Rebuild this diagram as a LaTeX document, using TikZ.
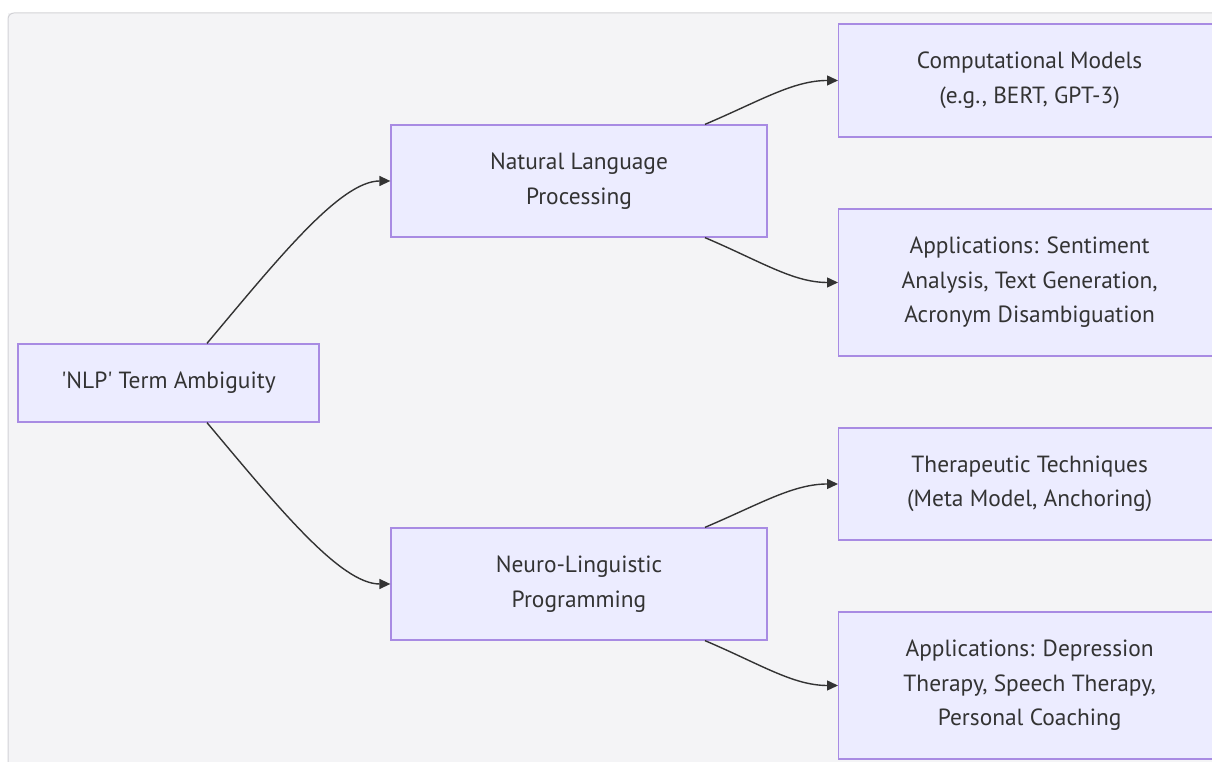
\documentclass[tikz,border=0pt]{standalone}
\usepackage{fontspec}
\setmainfont{PT Sans}
\usepackage{tikz}
\usetikzlibrary{positioning,arrows.meta}
\definecolor{panelbg}{HTML}{F4F4F6}
\definecolor{panelline}{HTML}{D2D2D6}
\definecolor{boxfill}{HTML}{ECECFF}
\definecolor{boxline}{HTML}{A88BE3}
\definecolor{inkgray}{HTML}{333333}
% straight quote, not the curly one
\newcommand{\squote}{\XeTeXglyph\XeTeXglyphindex"quotesingle"\relax}

\begin{document}
\begin{tikzpicture}[x=1pt, y=1pt,
    box/.style={draw=boxline, fill=boxfill, line width=1.3pt, align=center,
        text=inkgray, font=\fontsize{23.4}{34.5}\selectfont, inner sep=0pt},
    link/.style={draw=inkgray, line width=1.4pt, -{Triangle[length=11pt,width=10pt]}}]
    \useasboundingbox (0,0) rectangle (1212,765);

    % Panel behind the chart
    \fill[panelbg] (8,3) rectangle (1240,752);
    \draw[panelline, line width=1pt, rounded corners=6pt] (8,3) -- (8,752) -- (1240,752);

    % Root and the two readings
    \node[box, minimum width=301, minimum height=78] (amb) at (168.5,382) {\squote NLP\squote{} Term Ambiguity};
    \node[box, minimum width=376, minimum height=112] (nlproc) at (579,584) {Natural Language\\Processing};
    \node[box, minimum width=376, minimum height=112] (neuro) at (579,181) {Neuro-Linguistic\\Programming};

    % Leaves, cut at the right edge
    \node[box, anchor=west, minimum width=382, minimum height=113] (comp) at (838,684.5) {Computational Models\\(e.g., BERT, GPT-3)};
    \node[box, anchor=west, minimum width=382, minimum height=147] (appnlp) at (838,482.5) {Applications: Sentiment\\Analysis, Text Generation,\\Acronym Disambiguation};
    \node[box, anchor=west, minimum width=382, minimum height=112] (thera) at (838,281) {Therapeutic Techniques\\(Meta Model, Anchoring)};
    \node[box, anchor=west, minimum width=382, minimum height=147] (appneuro) at (838,79.5) {Applications: Depression\\Therapy, Speech Therapy,\\Personal Coaching};

    % Links from the root
    \draw[link] ([xshift=38.5]amb.north) .. controls +(50:110) and +(180:50) .. (nlproc.west);
    \draw[link] ([xshift=38.5]amb.south) .. controls +(-50:110) and +(180:50) .. (neuro.west);

    % Links to the leaves
    \draw[link] ([xshift=126]nlproc.north) .. controls +(23:60) and +(180:45) .. (comp.west);
    \draw[link] ([xshift=126]nlproc.south) .. controls +(-23:60) and +(180:45) .. (appnlp.west);
    \draw[link] ([xshift=126]neuro.north) .. controls +(23:60) and +(180:45) .. (thera.west);
    \draw[link] ([xshift=126]neuro.south) .. controls +(-23:60) and +(180:45) .. (appneuro.west);
\end{tikzpicture}
\end{document}
